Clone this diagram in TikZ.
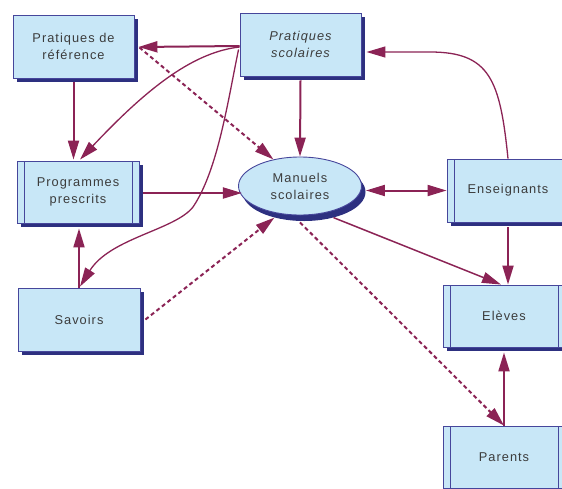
\documentclass[tikz,border=0pt]{standalone}
\usepackage{fontspec}
\setmainfont[LetterSpace=8]{Liberation Sans}
\usetikzlibrary{arrows.meta,shadows,calc,shapes.geometric}
\definecolor{boxfill}{RGB}{200,231,247}
\definecolor{bordc}{RGB}{70,70,155}
\definecolor{shad}{RGB}{45,48,128}
\definecolor{arrc}{RGB}{139,35,85}
\definecolor{txt}{RGB}{60,60,60}
\tikzset{
  box/.style={draw=bordc, line width=0.9pt, fill=boxfill, minimum width=121pt, minimum height=63pt,
    inner sep=0pt, align=center, text=txt, font=\fontsize{12.8}{17}\selectfont,
    drop shadow={shadow xshift=4pt, shadow yshift=-4pt, fill=shad, opacity=1}},
  dbl/.style={box, path picture={\draw[bordc, line width=0.9pt]
      ([xshift=7pt]path picture bounding box.north west) -- ([xshift=7pt]path picture bounding box.south west)
      ([xshift=-7pt]path picture bounding box.north east) -- ([xshift=-7pt]path picture bounding box.south east);}},
  ell/.style={ellipse, draw=bordc, line width=0.9pt, fill=boxfill, minimum width=123pt, minimum height=58pt,
    inner sep=0pt, align=center, text=txt, font=\fontsize{12.8}{17}\selectfont,
    drop shadow={shadow xshift=4pt, shadow yshift=-6pt, fill=shad, opacity=1}},
  arr/.style={draw=arrc, line width=2pt, -{Triangle[length=19pt,width=11pt]}},
  curv/.style={draw=arrc, line width=1.3pt, -{Triangle[length=19pt,width=11pt]}},
  darr/.style={draw=arrc, line width=2pt, dash pattern=on 4pt off 3pt, -{Triangle[length=19pt,width=11pt]}},
  biarr/.style={draw=arrc, line width=2pt, {Triangle[length=19pt,width=11pt]}-{Triangle[length=19pt,width=11pt]}},
}
\begin{document}
\begin{tikzpicture}[x=1pt,y=-1pt]
\useasboundingbox (0,0) rectangle (562,488);
\clip (0,0) rectangle (562,488);
% nodes
\node[box] (ref) at (73.5,46.5) {Pratiques de\\référence};
\node[box] (scol) at (300.5,44.5) {\itshape Pratiques\\\itshape scolaires};
\node[dbl, minimum width=122pt, minimum height=62pt] (prog) at (78,192) {Programmes\\prescrits};
\node[ell] (man) at (300,186) {Manuels\\scolaires};
\node[dbl, minimum width=122pt] (ens) at (508,190.5) {Enseignants};
\node[dbl, minimum width=122pt, minimum height=62pt] (elev) at (504,316) {Elèves};
\node[dbl, minimum width=122pt, minimum height=62pt] (par) at (504,457) {Parents};
\node[box, minimum width=122pt] (sav) at (79,319.5) {Savoirs};
% connectors
\draw[arr] ($(scol.west)+(0,1.5)$) -- ($(ref.east)+(4,0.5)$);
\draw[arr] ($(ref.south)+(0,4)$) -- ($(ref.south |- prog.north)+(0,-1)$);
\draw[darr] ($(ref.east)+(5,1)$) -- (man.135);
\draw[curv] ($(scol.west)+(0,2.5)$) .. controls (195,52) and (150,85) .. ($(prog.north)+(2,-1)$);
\draw[curv] ($(scol.west)+(-1,5)$) .. controls (228,100) and (218,170) .. (193,207)
   .. controls (175,230) and (110,238) .. ($(sav.north)+(1,-1)$);
\draw[arr] ($(scol.south)+(0,4)$) -- (man.north);
\draw[arr] ($(prog.east)+(4,1)$) -- ($(prog.east -| man.190)+(0,1)$);
\draw[arr] (sav.north) -- ($(sav.north |- prog.south)+(0,5)$);
\draw[darr] ($(sav.east)+(5,0)$) -- ($(man.225)+(1,5)$);
\draw[biarr] ($(ens.west -| man.east)+(4,0)$) -- (ens.west);
\draw[curv] (ens.north) .. controls (500,80) and (490,52) .. (430,52) -- ($(scol.east)+(5,7.5)$);
\draw[arr] ($(ens.south)+(0,5)$) -- ($(ens.south |- elev.north)$);
\draw[curv, line width=1.5pt] ($(man.-40)+(3,6)$) -- ($(elev.north)+(-3,0)$);
\draw[darr] ($(man.south)+(0,7)$) -- (par.north);
\draw[arr] (par.north) -- ($(par.north |- elev.south)+(0,5)$);
\end{tikzpicture}
\end{document}
